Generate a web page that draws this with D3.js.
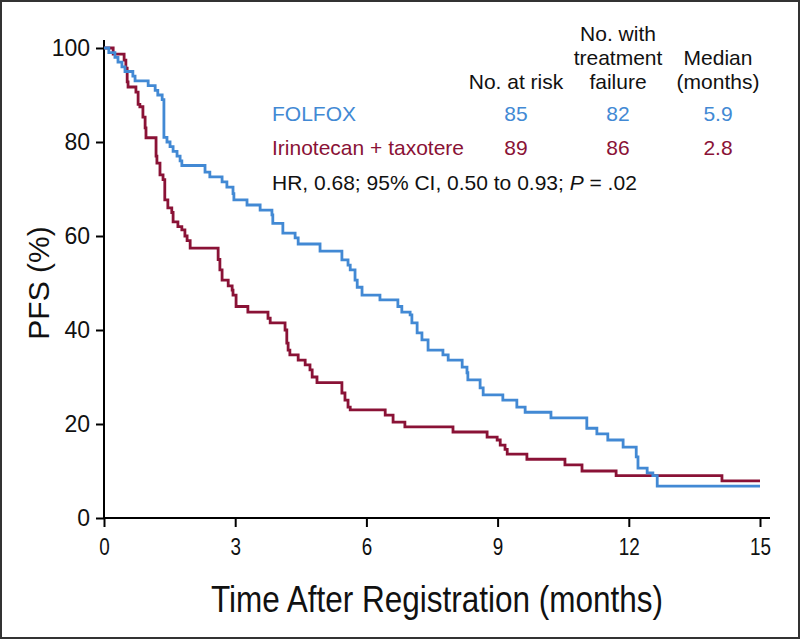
<!DOCTYPE html>
<html><head><meta charset="utf-8">
<script src="https://cdn.jsdelivr.net/npm/d3@7"></script>
<style>body{margin:0;background:#fff}svg{display:block}</style>
</head><body><svg id="c" width="801" height="640"></svg>
<script>
// ---- data ----
const folfoxTime = [0,0.11,0.25,0.32,0.41,0.48,0.66,0.71,1.01,1.17,1.23,1.33,1.37,1.44,1.51,1.58,1.67,1.74,1.78,2.31,2.42,2.70,2.81,2.95,2.97,3.27,3.57,3.84,3.86,4.09,4.37,4.44,4.94,5.44,5.58,5.63,5.74,5.79,5.90,6.31,6.72,6.81,7.00,7.04,7.16,7.27,7.41,7.75,7.87,8.19,8.30,8.32,8.60,8.67,9.12,9.44,9.63,10.22,11.04,11.27,11.52,11.87,12.17,12.21,12.42,12.55,12.65,15];
const folfoxPFS  = [100,99,98,97,96,95,94,93,92,91,90,89,81,80,79,78,77,76,75,73.6,72.6,71.5,70.4,69,67.7,66.6,65.5,64.5,62.7,60.6,59.6,58.3,56.8,54.9,53.8,52.8,50.6,49.1,47.4,46.4,45,43.8,43.2,41.5,39.4,37.9,35.7,34.7,33.6,32.1,30.9,29.4,27.7,26.2,25.1,23.6,22.5,21.3,19.1,17.9,16.6,15.1,13,10.6,9.6,9,6.8,6.8];
const iriTime = [0,0.21,0.46,0.50,0.53,0.55,0.73,0.78,0.82,0.89,0.94,0.96,1.19,1.21,1.28,1.35,1.39,1.46,1.55,1.58,1.69,1.78,1.85,1.90,1.97,2.61,2.65,2.70,2.84,2.93,2.95,3.02,3.29,3.75,3.80,4.14,4.18,4.21,4.25,4.44,4.60,4.71,4.76,4.87,5.44,5.51,5.58,5.63,6.43,6.61,6.88,7.98,8.76,8.99,9.06,9.17,9.22,9.67,10.54,10.93,11.71,14.13,15];
const iriPFS  = [100,98.7,97.4,95.7,92.8,91.7,90.6,88,87.5,85.3,83,80.9,77,75.5,73,72,67.7,66,65,63,62,61.3,60,59,57.4,55,52.8,50.6,49.4,48.5,47.4,45,43.8,42.5,41.5,40,37.2,35.7,34.7,33.6,32.6,31.5,30,28.8,26.6,25.1,23.6,23,21.9,20.4,19.4,18.3,17.2,16.6,15.5,14.6,13.6,12.5,11.3,10,9,7.9,7.9];
const xTicks = [0,3,6,9,12,15];
const yTicks = [0,20,40,60,80,100];
const headRows = [["No. with"],["treatment","Median"],["No. at risk","failure","(months)"]];
const armNames = ["FOLFOX","Irinotecan + taxotere"];
const atRisk = [85,89];
const failures = [82,86];
const medians = ["5.9","2.8"];

// ---- drawing ----
const blue = "#4289d4", red = "#8a1236";
const svg = d3.select("#c");
svg.append("rect").attr("x",1).attr("y",1).attr("width",798).attr("height",637)
  .attr("fill","#fff").attr("stroke","#333").attr("stroke-width",2);

const x = d3.scaleLinear().domain([0,15]).range([104,760]);
const y = d3.scaleLinear().domain([0,100]).range([518,48]);
const sans = "Liberation Sans, Arial, Helvetica, sans-serif";

// axes
const gy = svg.append("g").attr("transform","translate(104,0)")
  .call(d3.axisLeft(y).tickValues(yTicks).tickSize(8).tickPadding(6));
gy.select(".domain").attr("d","M0,518V40");
const gx = svg.append("g").attr("transform","translate(0,518)")
  .call(d3.axisBottom(x).tickValues(xTicks).tickSize(9).tickPadding(12));
gx.select(".domain").attr("d","M104,0H770");
[gx,gy].forEach(g=>{
  g.selectAll(".domain,line").attr("stroke","#000").attr("stroke-width",2);
});
gy.selectAll("text").attr("font-family",sans).attr("font-size",23).attr("fill","#111");
gx.selectAll("text").attr("font-family",sans).attr("font-size",23).attr("fill","#111")
  .attr("transform",function(){return null;})
  .each(function(){
    const t=d3.select(this); const w=this.getComputedTextLength();
    t.attr("textLength",w*0.82).attr("lengthAdjust","spacingAndGlyphs");
  });

svg.append("text").attr("transform","translate(49,283) rotate(-90)")
  .attr("text-anchor","middle").attr("font-family",sans).attr("font-size",30).attr("fill","#111")
  .text("PFS (%)");
svg.append("text").attr("x",437).attr("y",612).attr("text-anchor","middle")
  .attr("font-family",sans).attr("font-size",36).attr("fill","#111")
  .attr("textLength",452).attr("lengthAdjust","spacingAndGlyphs")
  .text("Time After Registration (months)");

// curves
const line = d3.line().x(d=>x(d[0])).y(d=>y(d[1])).curve(d3.curveStepAfter);
function curve(t,v,col){
  const pts = t.map((d,i)=>[d,v[i]]);
  svg.append("path").datum(pts).attr("d",line).attr("fill","none")
    .attr("stroke",col).attr("stroke-width",2.8);
}
curve(iriTime,iriPFS,red);
curve(folfoxTime,folfoxPFS,blue);

// legend / table
const fs = 21;
const colX = [516,618,718];
const hd = svg.append("g").attr("font-family",sans).attr("font-size",fs).attr("fill","#111").attr("text-anchor","middle");
hd.append("text").attr("x",colX[1]).attr("y",41).text(headRows[0][0]);
hd.append("text").attr("x",colX[1]).attr("y",65).text(headRows[1][0]);
hd.append("text").attr("x",colX[2]).attr("y",65).text(headRows[1][1]);
hd.append("text").attr("x",colX[0]).attr("y",89).text(headRows[2][0]);
hd.append("text").attr("x",colX[1]).attr("y",89).text(headRows[2][1]);
hd.append("text").attr("x",colX[2]).attr("y",89).text(headRows[2][2]);
const rowY = [121,155];
const cols = [blue,red];
armNames.forEach((n,i)=>{
  const g = svg.append("g").attr("font-family",sans).attr("font-size",fs).attr("fill",cols[i]);
  g.append("text").attr("x",272).attr("y",rowY[i]).text(n);
  g.append("text").attr("x",colX[0]).attr("y",rowY[i]).attr("text-anchor","middle").text(atRisk[i]);
  g.append("text").attr("x",colX[1]).attr("y",rowY[i]).attr("text-anchor","middle").text(failures[i]);
  g.append("text").attr("x",colX[2]).attr("y",rowY[i]).attr("text-anchor","middle").text(medians[i]);
});
const hr = svg.append("text").attr("x",272).attr("y",190).attr("font-family",sans)
  .attr("font-size",fs).attr("fill","#111");
hr.append("tspan").text("HR, 0.68; 95% CI, 0.50 to 0.93; ");
hr.append("tspan").attr("font-style","italic").text("P");
hr.append("tspan").text(" = .02");
</script></body></html>
